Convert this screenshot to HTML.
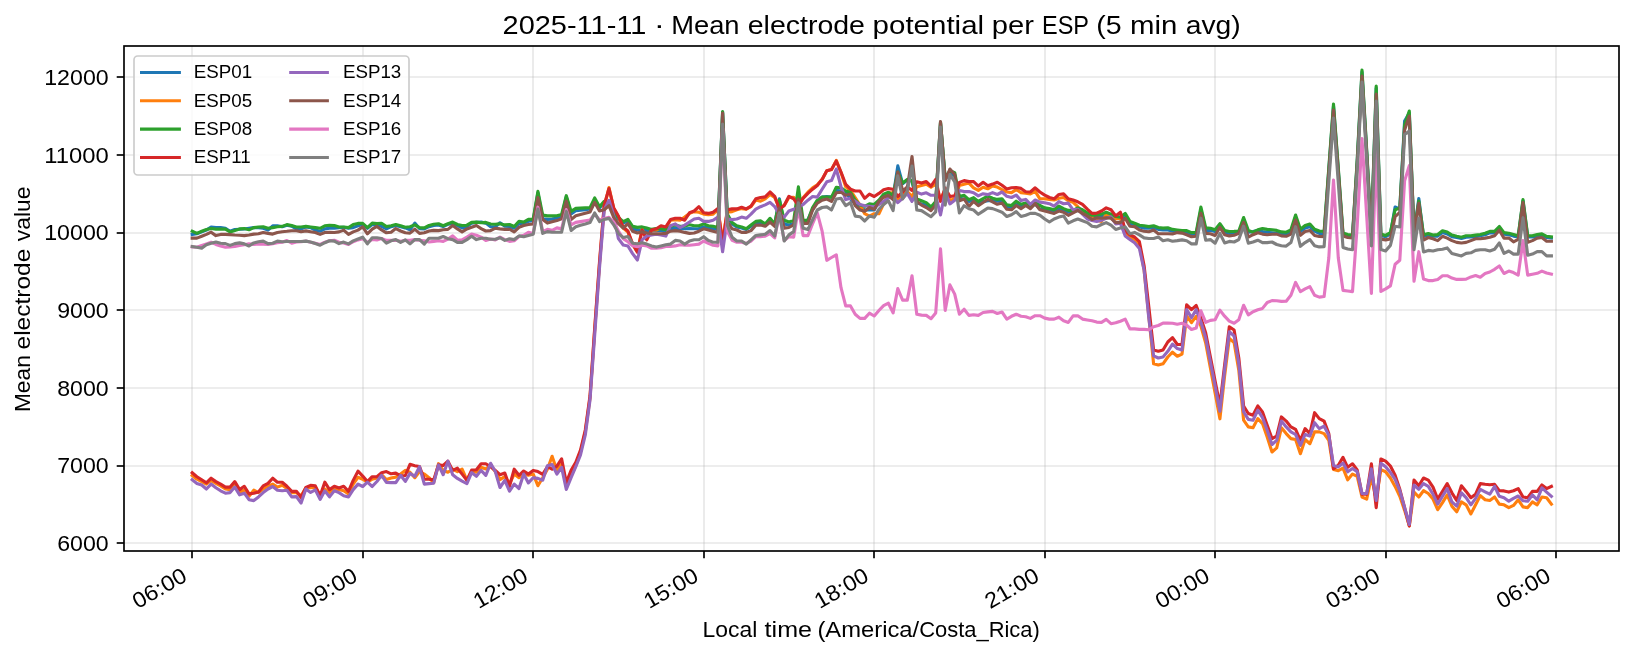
<!DOCTYPE html>
<html><head><meta charset="utf-8"><title>Mean electrode potential per ESP</title>
<style>html,body{margin:0;padding:0;background:#fff;} svg{display:block;} text{font-family:"Liberation Sans", sans-serif;fill:#000;}</style>
</head><body>
<div style="will-change:transform;width:1634px;height:657px;">
<svg width="1634" height="657" viewBox="0 0 1634 657">
<rect x="0" y="0" width="1634" height="657" fill="#fff"/>

<g stroke="#b0b0b0" stroke-opacity="0.3" stroke-width="1.67"><line x1="192" y1="46.0" x2="192" y2="551.0"/><line x1="363" y1="46.0" x2="363" y2="551.0"/><line x1="533" y1="46.0" x2="533" y2="551.0"/><line x1="704" y1="46.0" x2="704" y2="551.0"/><line x1="874" y1="46.0" x2="874" y2="551.0"/><line x1="1045" y1="46.0" x2="1045" y2="551.0"/><line x1="1215" y1="46.0" x2="1215" y2="551.0"/><line x1="1386" y1="46.0" x2="1386" y2="551.0"/><line x1="1556" y1="46.0" x2="1556" y2="551.0"/><line x1="124.0" y1="543" x2="1619.0" y2="543"/><line x1="124.0" y1="466" x2="1619.0" y2="466"/><line x1="124.0" y1="388" x2="1619.0" y2="388"/><line x1="124.0" y1="310" x2="1619.0" y2="310"/><line x1="124.0" y1="233" x2="1619.0" y2="233"/><line x1="124.0" y1="155" x2="1619.0" y2="155"/><line x1="124.0" y1="77" x2="1619.0" y2="77"/></g>
<g fill="none" stroke-width="3.125" stroke-linejoin="round" stroke-linecap="square">
<clipPath id="c"><rect x="124.0" y="46.0" width="1495.0" height="505.0"/></clipPath>
<polyline clip-path="url(#c)" stroke="#1f77b4" points="192.2,234.4 196.9,233.8 201.7,231.9 206.4,230.1 211.1,227.0 215.9,227.6 220.6,227.6 225.4,228.3 230.1,231.3 234.8,229.5 239.6,229.2 244.3,229.0 249.0,228.3 253.8,227.6 258.5,227.6 263.2,228.3 268.0,230.1 272.7,225.8 277.4,225.8 282.2,226.8 286.9,225.2 291.7,226.1 296.4,228.9 301.1,228.9 305.9,227.0 310.6,227.6 315.3,230.1 320.1,231.3 324.8,228.9 329.5,228.3 334.3,228.3 339.0,227.6 343.7,227.3 348.5,228.3 353.2,227.6 358.0,225.8 362.7,224.6 367.4,228.3 372.2,224.6 376.9,224.7 381.6,226.3 386.4,228.9 391.1,226.7 395.8,225.5 400.6,226.7 405.3,227.9 410.0,229.8 414.8,223.1 419.5,228.6 424.3,228.9 429.0,226.7 433.7,225.5 438.5,224.9 443.2,226.5 447.9,224.3 452.7,223.7 457.4,225.5 462.1,227.9 466.9,226.7 471.6,223.1 476.4,222.4 481.1,222.1 485.8,223.1 490.6,226.7 495.3,226.7 500.0,222.8 504.8,226.1 509.5,226.5 514.2,228.2 519.0,223.7 523.7,223.3 528.4,221.2 533.2,220.6 537.9,192.9 542.7,218.8 547.4,219.4 552.1,219.1 556.9,217.9 561.6,216.9 566.3,196.9 571.1,213.9 575.8,210.8 580.5,210.2 585.3,209.6 590.0,209.0 594.7,200.0 599.5,208.0 604.2,203.0 609.0,206.0 613.7,213.0 618.4,219.0 623.2,223.0 627.9,221.0 632.6,229.0 637.4,229.9 642.1,230.0 646.8,230.6 651.6,230.6 656.3,230.2 661.0,230.6 665.8,230.6 670.5,228.5 675.3,228.1 680.0,228.8 684.7,228.8 689.5,228.5 694.2,228.8 698.9,228.5 703.7,226.9 708.4,228.1 713.1,228.8 717.9,229.4 722.6,112.0 727.3,215.3 732.1,223.9 736.8,226.9 741.6,228.1 746.3,229.4 751.0,226.3 755.8,222.6 760.5,223.2 765.2,224.5 770.0,220.2 774.7,224.5 779.4,198.8 784.2,223.9 788.9,225.1 793.7,223.7 798.4,199.2 803.1,222.2 807.9,219.8 812.6,209.4 817.3,201.4 822.1,197.1 826.8,196.5 831.5,197.1 836.3,190.4 841.0,191.0 845.7,192.2 850.5,199.0 855.2,203.9 860.0,207.5 864.7,210.0 869.4,210.0 874.2,210.0 878.9,201.4 883.6,195.9 888.4,193.4 893.1,197.1 897.8,165.9 902.6,183.7 907.3,180.0 912.0,181.2 916.8,203.2 921.5,203.9 926.3,205.1 931.0,207.5 935.7,203.9 940.5,123.0 945.2,179.4 949.9,173.3 954.7,175.7 959.4,198.3 964.1,199.0 968.9,201.4 973.6,200.2 978.3,202.6 983.1,201.6 987.8,200.7 992.6,200.6 997.3,201.2 1002.0,201.2 1006.8,206.7 1011.5,207.3 1016.2,203.7 1021.0,205.5 1025.7,204.9 1030.4,207.3 1035.2,203.7 1039.9,209.2 1044.7,209.8 1049.4,211.0 1054.1,211.0 1058.9,209.2 1063.6,210.4 1068.3,212.2 1073.1,211.6 1077.8,210.4 1082.5,211.6 1087.3,214.1 1092.0,216.5 1096.7,216.5 1101.5,216.5 1106.2,215.9 1111.0,215.9 1115.7,218.3 1120.4,219.0 1125.2,217.1 1129.9,223.2 1134.6,224.5 1139.4,226.9 1144.1,228.1 1148.8,228.1 1153.6,227.5 1158.3,229.4 1163.0,230.0 1167.8,230.0 1172.5,231.1 1177.3,231.6 1182.0,232.2 1186.7,232.2 1191.5,235.0 1196.2,234.1 1200.9,209.6 1205.7,230.4 1210.4,230.2 1215.1,231.6 1219.9,226.7 1224.6,232.2 1229.3,233.4 1234.1,232.8 1238.8,232.8 1243.6,220.6 1248.3,232.2 1253.0,231.6 1257.8,230.4 1262.5,231.6 1267.2,232.2 1272.0,232.8 1276.7,233.4 1281.4,234.1 1286.2,234.1 1290.9,232.2 1295.6,218.2 1300.4,231.6 1305.1,227.9 1309.9,226.7 1314.6,231.0 1319.3,233.4 1324.1,234.3 1328.8,170.0 1333.5,106.0 1338.3,170.0 1343.0,235.0 1347.7,236.0 1352.5,237.0 1357.2,162.0 1362.0,72.0 1366.7,152.0 1371.4,234.0 1376.2,88.0 1380.9,235.5 1385.6,236.7 1390.4,234.1 1395.1,207.0 1399.8,209.2 1404.6,121.0 1409.3,113.0 1414.0,234.5 1418.8,198.5 1423.5,236.2 1428.3,235.1 1433.0,236.3 1437.7,236.1 1442.5,232.6 1447.2,233.9 1451.9,236.6 1456.7,237.5 1461.4,238.5 1466.1,237.3 1470.9,236.9 1475.6,236.6 1480.3,235.7 1485.1,234.8 1489.8,232.9 1494.6,232.9 1499.3,228.3 1504.0,234.1 1508.8,234.8 1513.5,236.1 1518.2,236.9 1523.0,200.8 1527.7,236.9 1532.4,236.9 1537.2,236.1 1541.9,235.3 1546.6,237.5 1551.4,238.1"/>
<polyline clip-path="url(#c)" stroke="#ff7f0e" points="192.2,475.5 196.9,479.2 201.7,481.6 206.4,484.1 211.1,480.4 215.9,483.4 220.6,485.9 225.4,489.0 230.1,489.6 234.8,485.3 239.6,492.0 244.3,490.2 249.0,496.3 253.8,490.2 258.5,492.6 263.2,489.0 268.0,485.9 272.7,484.1 277.4,487.1 282.2,485.3 286.9,488.4 291.7,492.6 296.4,492.6 301.1,495.7 305.9,487.7 310.6,487.7 315.3,487.1 320.1,495.7 324.8,489.0 329.5,492.6 334.3,489.0 339.0,489.6 343.7,490.8 348.5,493.9 353.2,484.1 358.0,477.3 362.7,479.2 367.4,482.2 372.2,479.2 376.9,478.1 381.6,474.7 386.4,479.6 391.1,478.0 395.8,477.1 400.6,474.1 405.3,470.4 410.0,472.2 414.8,477.7 419.5,471.6 424.3,474.1 429.0,477.7 433.7,482.6 438.5,463.7 443.2,470.4 447.9,472.2 452.7,469.2 457.4,471.6 462.1,469.2 466.9,480.2 471.6,471.6 476.4,472.2 481.1,467.3 485.8,468.9 490.6,465.5 495.3,471.6 500.0,479.6 504.8,476.5 509.5,483.9 514.2,474.1 519.0,477.7 523.7,474.1 528.4,475.3 533.2,474.1 537.9,485.7 542.7,477.7 547.4,469.2 552.1,456.3 556.9,470.4 561.6,464.3 566.3,485.1 571.1,475.3 575.8,465.5 580.5,452.0 585.3,432.0 590.0,398.0 594.7,330.0 599.5,264.0 604.2,207.0 609.0,187.5 613.7,208.5 618.4,217.0 623.2,228.0 627.9,232.0 632.6,244.4 637.4,251.8 642.1,229.4 646.8,238.5 651.6,230.0 656.3,230.0 661.0,227.5 665.8,228.1 670.5,220.2 675.3,219.6 680.0,220.2 684.7,217.1 689.5,213.4 694.2,211.6 698.9,212.2 703.7,214.1 708.4,214.7 713.1,214.1 717.9,209.8 722.6,240.0 727.3,212.2 732.1,211.6 736.8,209.8 741.6,208.6 746.3,209.2 751.0,206.7 755.8,200.0 760.5,201.2 765.2,198.8 770.0,194.5 774.7,197.5 779.4,207.9 784.2,205.5 788.9,197.5 793.7,197.3 798.4,202.8 803.1,197.7 807.9,192.2 812.6,187.9 817.3,184.9 822.1,179.4 826.8,170.8 831.5,169.6 836.3,160.4 841.0,172.6 845.7,186.7 850.5,190.4 855.2,197.7 860.0,205.1 864.7,213.7 869.4,216.1 874.2,213.7 878.9,213.7 883.6,203.9 888.4,192.8 893.1,192.8 897.8,199.0 902.6,194.1 907.3,191.6 912.0,196.5 916.8,186.7 921.5,185.5 926.3,184.3 931.0,187.3 935.7,184.3 940.5,200.0 945.2,189.2 949.9,200.2 954.7,199.0 959.4,185.5 964.1,184.3 968.9,183.1 973.6,187.9 978.3,190.4 983.1,187.2 987.8,188.8 992.6,185.9 997.3,187.1 1002.0,189.6 1006.8,192.0 1011.5,192.6 1016.2,189.6 1021.0,192.6 1025.7,193.3 1030.4,193.9 1035.2,191.4 1039.9,198.8 1044.7,198.8 1049.4,199.4 1054.1,200.0 1058.9,198.2 1063.6,197.5 1068.3,200.6 1073.1,202.4 1077.8,206.7 1082.5,212.2 1087.3,216.5 1092.0,217.1 1096.7,220.2 1101.5,221.4 1106.2,214.7 1111.0,216.5 1115.7,219.0 1120.4,218.3 1125.2,233.7 1129.9,237.0 1134.6,239.4 1139.4,245.0 1144.1,270.0 1148.8,316.0 1153.6,363.8 1158.3,365.0 1163.0,363.8 1167.8,357.0 1172.5,352.2 1177.3,356.2 1182.0,354.1 1186.7,315.8 1191.5,322.6 1196.2,316.4 1200.9,326.0 1205.7,343.0 1210.4,368.0 1215.1,393.0 1219.9,418.8 1224.6,376.0 1229.3,338.4 1234.1,342.6 1238.8,370.2 1243.6,420.2 1248.3,426.9 1253.0,427.8 1257.8,418.6 1262.5,423.6 1267.2,437.0 1272.0,452.0 1276.7,447.9 1281.4,427.8 1286.2,433.6 1290.9,438.6 1295.6,439.5 1300.4,453.7 1305.1,439.5 1309.9,443.7 1314.6,431.9 1319.3,431.9 1324.1,433.6 1328.8,440.3 1333.5,469.6 1338.3,470.7 1343.0,468.1 1347.7,479.8 1352.5,474.1 1357.2,476.2 1362.0,497.0 1366.7,499.1 1371.4,476.6 1376.2,499.1 1380.9,469.6 1385.6,471.7 1390.4,478.0 1395.1,486.4 1399.8,496.3 1404.6,510.4 1409.3,525.9 1414.0,492.1 1418.8,497.0 1423.5,490.7 1428.3,493.5 1433.0,499.1 1437.7,509.7 1442.5,502.6 1447.2,494.9 1451.9,506.2 1456.7,511.8 1461.4,501.9 1466.1,504.8 1470.9,513.9 1475.6,504.8 1480.3,495.6 1485.1,499.8 1489.8,500.5 1494.6,497.0 1499.3,504.1 1504.0,504.8 1508.8,507.6 1513.5,505.4 1518.2,499.8 1523.0,506.9 1527.7,507.6 1532.4,501.9 1537.2,504.8 1541.9,497.0 1546.6,497.7 1551.4,504.1"/>
<polyline clip-path="url(#c)" stroke="#2ca02c" points="192.2,231.3 196.9,233.4 201.7,231.3 206.4,229.5 211.1,228.5 215.9,229.1 220.6,229.1 225.4,229.1 230.1,231.9 234.8,230.5 239.6,228.9 244.3,228.6 249.0,229.8 253.8,227.6 258.5,227.0 263.2,226.8 268.0,228.3 272.7,227.6 277.4,226.8 282.2,226.4 286.9,224.6 291.7,225.6 296.4,227.0 301.1,227.0 305.9,226.4 310.6,227.0 315.3,227.6 320.1,228.3 324.8,225.8 329.5,225.2 334.3,225.6 339.0,227.0 343.7,227.0 348.5,227.6 353.2,224.6 358.0,223.4 362.7,223.4 367.4,227.6 372.2,223.1 376.9,223.6 381.6,223.2 386.4,226.5 391.1,225.7 395.8,224.5 400.6,225.7 405.3,227.3 410.0,226.7 414.8,224.9 419.5,227.7 424.3,227.9 429.0,225.5 433.7,224.3 438.5,223.7 443.2,225.7 447.9,223.7 452.7,222.1 457.4,224.5 462.1,225.5 466.9,225.2 471.6,222.4 476.4,222.1 481.1,222.8 485.8,222.4 490.6,224.0 495.3,224.3 500.0,223.7 504.8,224.9 509.5,224.5 514.2,226.5 519.0,221.2 523.7,222.1 528.4,219.4 533.2,219.1 537.9,191.4 542.7,215.1 547.4,215.9 552.1,215.9 556.9,215.7 561.6,214.5 566.3,195.7 571.1,211.4 575.8,208.4 580.5,208.1 585.3,207.9 590.0,207.7 594.7,198.0 599.5,206.7 604.2,201.3 609.0,204.0 613.7,211.0 618.4,217.3 623.2,221.6 627.9,219.4 632.6,226.4 637.4,227.4 642.1,226.9 646.8,228.1 651.6,229.4 656.3,228.5 661.0,228.8 665.8,229.7 670.5,226.3 675.3,225.1 680.0,226.3 684.7,226.1 689.5,224.8 694.2,225.7 698.9,225.7 703.7,223.9 708.4,225.7 713.1,226.3 717.9,227.5 722.6,111.5 727.3,214.1 732.1,222.6 736.8,225.7 741.6,226.9 746.3,228.8 751.0,225.1 755.8,221.4 760.5,220.8 765.2,223.9 770.0,218.3 774.7,223.9 779.4,200.0 784.2,220.2 788.9,222.0 793.7,220.6 798.4,186.9 803.1,220.4 807.9,220.4 812.6,207.5 817.3,200.2 822.1,197.1 826.8,197.1 831.5,197.1 836.3,187.3 841.0,187.9 845.7,191.0 850.5,192.2 855.2,200.2 860.0,205.1 864.7,206.3 869.4,203.9 874.2,204.5 878.9,200.2 883.6,194.1 888.4,192.2 893.1,195.3 897.8,172.0 902.6,183.1 907.3,179.4 912.0,180.6 916.8,199.0 921.5,200.8 926.3,202.6 931.0,206.9 935.7,201.4 940.5,122.0 945.2,178.2 949.9,170.8 954.7,172.6 959.4,196.5 964.1,195.3 968.9,199.6 973.6,197.7 978.3,201.4 983.1,198.6 987.8,196.1 992.6,198.2 997.3,199.4 1002.0,198.8 1006.8,204.9 1011.5,205.5 1016.2,201.2 1021.0,204.3 1025.7,203.1 1030.4,206.7 1035.2,201.8 1039.9,205.5 1044.7,207.9 1049.4,208.6 1054.1,209.8 1058.9,206.1 1063.6,208.6 1068.3,210.4 1073.1,210.4 1077.8,207.9 1082.5,209.8 1087.3,212.8 1092.0,215.3 1096.7,215.3 1101.5,214.1 1106.2,212.2 1111.0,214.1 1115.7,216.5 1120.4,217.1 1125.2,213.4 1129.9,221.4 1134.6,223.2 1139.4,225.3 1144.1,225.7 1148.8,226.6 1153.6,225.7 1158.3,227.5 1163.0,228.1 1167.8,227.8 1172.5,229.4 1177.3,230.0 1182.0,230.6 1186.7,230.6 1191.5,232.6 1196.2,232.2 1200.9,207.1 1205.7,227.9 1210.4,228.2 1215.1,229.8 1219.9,223.7 1224.6,230.4 1229.3,231.6 1234.1,231.4 1238.8,231.0 1243.6,217.5 1248.3,230.4 1253.0,232.2 1257.8,229.8 1262.5,228.6 1267.2,229.4 1272.0,229.8 1276.7,230.4 1281.4,231.9 1286.2,232.2 1290.9,229.8 1295.6,215.1 1300.4,229.2 1305.1,225.5 1309.9,224.0 1314.6,229.2 1319.3,231.0 1324.1,231.5 1328.8,168.0 1333.5,104.0 1338.3,168.0 1343.0,233.0 1347.7,234.5 1352.5,235.0 1357.2,160.0 1362.0,70.0 1366.7,150.0 1371.4,232.0 1376.2,86.0 1380.9,233.9 1385.6,235.4 1390.4,232.5 1395.1,209.7 1399.8,208.0 1404.6,125.0 1409.3,111.0 1414.0,232.9 1418.8,201.0 1423.5,234.8 1428.3,233.6 1433.0,235.1 1437.7,234.5 1442.5,230.8 1447.2,232.0 1451.9,235.1 1456.7,236.3 1461.4,237.3 1466.1,235.7 1470.9,235.7 1475.6,235.1 1480.3,234.5 1485.1,233.2 1489.8,231.4 1494.6,231.4 1499.3,226.5 1504.0,232.6 1508.8,233.2 1513.5,234.5 1518.2,235.7 1523.0,199.6 1527.7,235.7 1532.4,235.7 1537.2,234.5 1541.9,233.9 1546.6,236.3 1551.4,236.9"/>
<polyline clip-path="url(#c)" stroke="#d62728" points="192.2,472.8 196.9,476.7 201.7,479.8 206.4,482.8 211.1,478.2 215.9,481.6 220.6,484.1 225.4,487.1 230.1,487.1 234.8,481.6 239.6,489.6 244.3,486.3 249.0,493.9 253.8,493.2 258.5,492.0 263.2,485.9 268.0,483.4 272.7,478.2 277.4,482.2 282.2,482.2 286.9,486.3 291.7,491.4 296.4,491.2 301.1,497.5 305.9,487.5 310.6,485.3 315.3,485.9 320.1,495.7 324.8,482.2 329.5,489.6 334.3,486.3 339.0,488.0 343.7,486.3 348.5,491.4 353.2,480.4 358.0,471.2 362.7,476.1 367.4,481.6 372.2,476.7 376.9,476.6 381.6,472.8 386.4,471.6 391.1,473.8 395.8,473.1 400.6,475.9 405.3,475.5 410.0,464.3 414.8,465.7 419.5,466.5 424.3,479.2 429.0,479.2 433.7,479.9 438.5,464.9 443.2,465.5 447.9,461.2 452.7,470.4 457.4,468.2 462.1,474.1 466.9,480.4 471.6,470.1 476.4,469.8 481.1,463.7 485.8,463.7 490.6,466.7 495.3,470.4 500.0,474.7 504.8,473.1 509.5,486.3 514.2,469.2 519.0,475.3 523.7,471.0 528.4,474.1 533.2,470.4 537.9,471.6 542.7,474.3 547.4,466.7 552.1,469.2 556.9,466.1 561.6,458.8 566.3,482.6 571.1,470.4 575.8,462.4 580.5,450.0 585.3,430.0 590.0,396.0 594.7,328.0 599.5,262.0 604.2,205.0 609.0,188.5 613.7,207.7 618.4,216.0 623.2,227.0 627.9,231.0 632.6,243.9 637.4,252.1 642.1,230.0 646.8,239.8 651.6,230.0 656.3,228.8 661.0,225.7 665.8,226.9 670.5,219.6 675.3,218.3 680.0,218.3 684.7,220.2 689.5,212.8 694.2,211.0 698.9,206.7 703.7,212.8 708.4,213.4 713.1,212.2 717.9,208.6 722.6,244.0 727.3,209.8 732.1,208.9 736.8,208.9 741.6,207.3 746.3,208.9 751.0,206.1 755.8,198.8 760.5,197.5 765.2,196.9 770.0,192.0 774.7,196.3 779.4,209.2 784.2,205.5 788.9,196.3 793.7,198.9 798.4,205.6 803.1,198.3 807.9,193.4 812.6,189.2 817.3,185.5 822.1,179.4 826.8,170.8 831.5,169.6 836.3,161.0 841.0,172.0 845.7,184.3 850.5,189.2 855.2,191.0 860.0,191.0 864.7,198.3 869.4,194.1 874.2,196.5 878.9,193.4 883.6,189.8 888.4,188.6 893.1,189.2 897.8,196.5 902.6,192.2 907.3,186.7 912.0,190.4 916.8,181.8 921.5,183.1 926.3,181.6 931.0,186.1 935.7,179.4 940.5,201.3 945.2,187.9 949.9,196.5 954.7,195.9 959.4,182.4 964.1,180.6 968.9,181.6 973.6,181.6 978.3,186.1 983.1,182.3 987.8,185.7 992.6,184.1 997.3,182.2 1002.0,185.3 1006.8,189.0 1011.5,187.8 1016.2,187.5 1021.0,188.4 1025.7,191.8 1030.4,192.0 1035.2,187.8 1039.9,192.0 1044.7,195.1 1049.4,197.5 1054.1,198.8 1058.9,194.5 1063.6,193.9 1068.3,198.8 1073.1,200.0 1077.8,201.8 1082.5,204.3 1087.3,209.2 1092.0,213.4 1096.7,213.1 1101.5,211.0 1106.2,207.9 1111.0,209.8 1115.7,215.9 1120.4,212.2 1125.2,230.3 1129.9,234.8 1134.6,237.0 1139.4,241.7 1144.1,265.7 1148.8,306.8 1153.6,350.0 1158.3,351.3 1163.0,350.0 1167.8,342.0 1172.5,337.6 1177.3,344.5 1182.0,344.5 1186.7,304.8 1191.5,309.6 1196.2,305.5 1200.9,318.0 1205.7,333.0 1210.4,357.0 1215.1,381.0 1219.9,405.4 1224.6,365.2 1229.3,326.7 1234.1,330.0 1238.8,358.0 1243.6,406.0 1248.3,413.5 1253.0,415.2 1257.8,406.0 1262.5,411.9 1267.2,425.2 1272.0,438.6 1276.7,436.1 1281.4,416.9 1286.2,421.1 1290.9,426.9 1295.6,429.4 1300.4,440.3 1305.1,428.6 1309.9,433.6 1314.6,412.7 1319.3,418.6 1324.1,421.1 1328.8,433.6 1333.5,468.8 1338.3,465.4 1343.0,457.3 1347.7,467.3 1352.5,463.8 1357.2,470.0 1362.0,494.2 1366.7,494.2 1371.4,463.9 1376.2,507.6 1380.9,459.0 1385.6,461.1 1390.4,466.0 1395.1,475.2 1399.8,489.3 1404.6,507.6 1409.3,525.9 1414.0,480.1 1418.8,485.8 1423.5,478.0 1428.3,480.1 1433.0,487.1 1437.7,499.1 1442.5,491.4 1447.2,483.6 1451.9,492.8 1456.7,500.5 1461.4,485.8 1466.1,491.4 1470.9,497.7 1475.6,494.2 1480.3,483.6 1485.1,484.3 1489.8,484.8 1494.6,484.3 1499.3,490.7 1504.0,490.9 1508.8,492.1 1513.5,490.7 1518.2,488.6 1523.0,497.0 1527.7,497.7 1532.4,491.4 1537.2,491.4 1541.9,485.0 1546.6,488.6 1551.4,486.4"/>
<polyline clip-path="url(#c)" stroke="#9467bd" points="192.2,479.8 196.9,483.4 201.7,485.0 206.4,489.0 211.1,484.1 215.9,487.7 220.6,490.8 225.4,493.2 230.1,492.6 234.8,487.1 239.6,494.8 244.3,493.2 249.0,499.7 253.8,500.6 258.5,496.9 263.2,492.6 268.0,489.0 272.7,486.5 277.4,490.2 282.2,490.8 286.9,490.2 291.7,496.9 296.4,496.6 301.1,503.0 305.9,489.0 310.6,492.4 315.3,489.9 320.1,499.4 324.8,490.8 329.5,496.9 334.3,490.8 339.0,492.6 343.7,495.7 348.5,496.9 353.2,489.6 358.0,484.1 362.7,486.5 367.4,482.2 372.2,486.5 376.9,481.5 381.6,475.3 386.4,482.4 391.1,482.6 395.8,482.6 400.6,475.3 405.3,481.4 410.0,473.4 414.8,476.3 419.5,466.7 424.3,484.1 429.0,483.6 433.7,483.2 438.5,464.9 443.2,474.7 447.9,461.2 452.7,474.7 457.4,478.4 462.1,481.2 466.9,483.6 471.6,472.6 476.4,476.3 481.1,470.4 485.8,475.3 490.6,463.3 495.3,471.6 500.0,487.5 504.8,480.4 509.5,491.2 514.2,484.1 519.0,488.5 523.7,474.1 528.4,482.9 533.2,477.7 537.9,478.4 542.7,480.2 547.4,465.7 552.1,464.5 556.9,474.1 561.6,467.3 566.3,489.4 571.1,477.7 575.8,466.7 580.5,455.0 585.3,435.0 590.0,400.0 594.7,335.0 599.5,268.0 604.2,210.0 609.0,200.3 613.7,215.2 618.4,238.6 623.2,245.0 627.9,246.0 632.6,253.6 637.4,260.0 642.1,239.8 646.8,236.1 651.6,234.9 656.3,234.3 661.0,234.9 665.8,236.1 670.5,225.7 675.3,223.9 680.0,227.5 684.7,225.1 689.5,222.0 694.2,219.0 698.9,218.3 703.7,221.4 708.4,221.4 713.1,220.2 717.9,217.1 722.6,251.8 727.3,219.0 732.1,219.6 736.8,219.0 741.6,217.1 746.3,218.3 751.0,214.1 755.8,209.2 760.5,206.7 765.2,204.9 770.0,202.4 774.7,206.7 779.4,214.1 784.2,217.1 788.9,211.0 793.7,209.3 798.4,207.7 803.1,204.5 807.9,200.2 812.6,196.5 817.3,197.1 822.1,189.2 826.8,181.8 831.5,180.6 836.3,169.0 841.0,186.7 845.7,199.6 850.5,198.3 855.2,201.4 860.0,204.5 864.7,205.7 869.4,206.3 874.2,206.9 878.9,204.5 883.6,201.4 888.4,197.7 893.1,197.7 897.8,202.6 902.6,198.3 907.3,193.4 912.0,201.4 916.8,192.2 921.5,194.1 926.3,192.8 931.0,195.3 935.7,195.3 940.5,215.0 945.2,191.6 949.9,203.9 954.7,200.2 959.4,190.4 964.1,191.6 968.9,191.6 973.6,192.8 978.3,195.9 983.1,193.7 987.8,194.6 992.6,192.6 997.3,194.5 1002.0,192.0 1006.8,196.3 1011.5,197.5 1016.2,195.1 1021.0,200.6 1025.7,199.4 1030.4,204.3 1035.2,200.0 1039.9,202.1 1044.7,202.8 1049.4,203.7 1054.1,206.1 1058.9,201.6 1063.6,203.7 1068.3,203.1 1073.1,209.8 1077.8,209.2 1082.5,214.1 1087.3,219.0 1092.0,220.4 1096.7,221.4 1101.5,220.2 1106.2,218.3 1111.0,216.8 1115.7,223.9 1120.4,223.2 1125.2,236.0 1129.9,239.4 1134.6,242.8 1139.4,248.5 1144.1,270.2 1148.8,318.0 1153.6,355.8 1158.3,358.0 1163.0,357.0 1167.8,351.3 1172.5,344.1 1177.3,348.6 1182.0,350.0 1186.7,309.6 1191.5,317.8 1196.2,309.6 1200.9,322.0 1205.7,338.0 1210.4,362.0 1215.1,386.0 1219.9,411.2 1224.6,370.0 1229.3,331.7 1234.1,336.0 1238.8,363.5 1243.6,411.8 1248.3,419.4 1253.0,420.2 1257.8,410.2 1262.5,417.7 1267.2,430.3 1272.0,444.5 1276.7,440.3 1281.4,421.1 1286.2,426.9 1290.9,431.9 1295.6,434.5 1300.4,445.3 1305.1,434.5 1309.9,436.1 1314.6,422.7 1319.3,428.6 1324.1,426.1 1328.8,435.3 1333.5,465.4 1338.3,466.9 1343.0,463.1 1347.7,471.8 1352.5,468.5 1357.2,471.6 1362.0,493.5 1366.7,493.5 1371.4,468.9 1376.2,500.5 1380.9,463.2 1385.6,466.7 1390.4,472.4 1395.1,479.4 1399.8,490.7 1404.6,507.6 1409.3,524.5 1414.0,485.0 1418.8,489.3 1423.5,483.6 1428.3,486.4 1433.0,494.2 1437.7,504.1 1442.5,496.3 1447.2,488.6 1451.9,501.9 1456.7,506.2 1461.4,492.8 1466.1,497.7 1470.9,504.8 1475.6,498.4 1480.3,489.3 1485.1,491.8 1489.8,494.2 1494.6,486.4 1499.3,496.3 1504.0,497.7 1508.8,501.2 1513.5,498.4 1518.2,496.0 1523.0,500.8 1527.7,501.2 1532.4,494.9 1537.2,499.8 1541.9,487.9 1546.6,492.1 1551.4,496.3"/>
<polyline clip-path="url(#c)" stroke="#8c564b" points="192.2,238.1 196.9,238.1 201.7,236.2 206.4,234.4 211.1,232.2 215.9,235.6 220.6,234.4 225.4,234.4 230.1,234.6 234.8,235.0 239.6,235.3 244.3,235.6 249.0,235.0 253.8,234.1 258.5,233.8 263.2,232.5 268.0,233.4 272.7,234.1 277.4,232.5 282.2,231.7 286.9,231.3 291.7,230.7 296.4,230.7 301.1,231.7 305.9,230.9 310.6,231.7 315.3,232.5 320.1,234.4 324.8,232.5 329.5,232.2 334.3,232.5 339.0,231.9 343.7,230.1 348.5,234.4 353.2,231.9 358.0,230.1 362.7,226.8 367.4,233.8 372.2,229.2 376.9,226.4 381.6,229.9 386.4,232.8 391.1,232.2 395.8,228.6 400.6,231.0 405.3,232.8 410.0,233.1 414.8,229.2 419.5,233.4 424.3,232.8 429.0,231.0 433.7,230.4 438.5,230.6 443.2,229.8 447.9,229.4 452.7,225.5 457.4,228.9 462.1,231.9 466.9,228.9 471.6,227.3 476.4,225.5 481.1,228.6 485.8,231.0 490.6,230.6 495.3,228.2 500.0,228.9 504.8,229.4 509.5,229.2 514.2,231.9 519.0,227.3 523.7,225.5 528.4,224.5 533.2,224.0 537.9,197.5 542.7,219.4 547.4,223.1 552.1,221.8 556.9,220.6 561.6,218.8 566.3,201.1 571.1,219.4 575.8,215.7 580.5,214.5 585.3,213.2 590.0,212.0 594.7,202.4 599.5,211.0 604.2,209.8 609.0,205.6 613.7,217.3 618.4,223.7 623.2,228.0 627.9,223.7 632.6,231.2 637.4,233.0 642.1,231.8 646.8,233.0 651.6,233.7 656.3,233.7 661.0,233.7 665.8,233.4 670.5,231.2 675.3,230.6 680.0,231.2 684.7,232.4 689.5,233.4 694.2,233.0 698.9,231.2 703.7,228.8 708.4,230.0 713.1,231.2 717.9,232.4 722.6,113.0 727.3,221.4 732.1,228.8 736.8,230.0 741.6,232.4 746.3,232.4 751.0,230.6 755.8,225.1 760.5,225.1 765.2,226.3 770.0,222.0 774.7,226.3 779.4,207.9 784.2,228.1 788.9,227.5 793.7,224.9 798.4,199.2 803.1,223.4 807.9,223.4 812.6,210.0 817.3,203.2 822.1,200.2 826.8,199.0 831.5,201.4 836.3,192.8 841.0,192.2 845.7,195.3 850.5,194.1 855.2,205.7 860.0,210.0 864.7,211.2 869.4,207.5 874.2,209.4 878.9,201.4 883.6,197.1 888.4,195.3 893.1,199.6 897.8,172.0 902.6,190.4 907.3,187.9 912.0,156.5 916.8,201.4 921.5,205.1 926.3,207.5 931.0,210.6 935.7,205.1 940.5,121.5 945.2,180.6 949.9,169.0 954.7,174.5 959.4,200.8 964.1,199.0 968.9,206.3 973.6,201.4 978.3,205.7 983.1,202.5 987.8,199.2 992.6,201.8 997.3,204.3 1002.0,203.1 1006.8,209.2 1011.5,209.8 1016.2,205.5 1021.0,208.6 1025.7,205.5 1030.4,208.6 1035.2,203.7 1039.9,209.8 1044.7,211.0 1049.4,212.2 1054.1,213.4 1058.9,211.0 1063.6,212.2 1068.3,215.3 1073.1,212.8 1077.8,210.4 1082.5,213.4 1087.3,215.9 1092.0,219.6 1096.7,217.7 1101.5,218.3 1106.2,217.7 1111.0,218.3 1115.7,222.6 1120.4,222.6 1125.2,218.3 1129.9,226.3 1134.6,226.6 1139.4,230.0 1144.1,231.2 1148.8,231.8 1153.6,230.0 1158.3,233.7 1163.0,233.7 1167.8,233.7 1172.5,233.9 1177.3,232.6 1182.0,233.1 1186.7,234.7 1191.5,236.8 1196.2,236.3 1200.9,213.3 1205.7,233.4 1210.4,233.8 1215.1,235.5 1219.9,227.3 1224.6,234.7 1229.3,235.9 1234.1,235.3 1238.8,233.4 1243.6,222.4 1248.3,237.1 1253.0,234.7 1257.8,232.8 1262.5,234.1 1267.2,234.7 1272.0,234.3 1276.7,234.1 1281.4,235.9 1286.2,236.3 1290.9,234.1 1295.6,220.0 1300.4,235.3 1305.1,231.6 1309.9,230.4 1314.6,235.5 1319.3,236.5 1324.1,236.6 1328.8,173.0 1333.5,110.0 1338.3,173.0 1343.0,236.0 1347.7,237.5 1352.5,238.0 1357.2,165.0 1362.0,76.0 1366.7,155.0 1371.4,238.0 1376.2,94.0 1380.9,239.1 1385.6,239.9 1390.4,238.9 1395.1,216.7 1399.8,212.4 1404.6,130.0 1409.3,116.0 1414.0,234.3 1418.8,203.3 1423.5,240.0 1428.3,237.5 1433.0,238.8 1437.7,240.6 1442.5,236.3 1447.2,238.1 1451.9,240.6 1456.7,242.4 1461.4,243.0 1466.1,242.4 1470.9,240.6 1475.6,238.8 1480.3,238.8 1485.1,238.1 1489.8,237.3 1494.6,235.7 1499.3,230.2 1504.0,238.1 1508.8,238.1 1513.5,241.8 1518.2,239.4 1523.0,202.6 1527.7,242.4 1532.4,240.6 1537.2,238.1 1541.9,237.5 1546.6,241.2 1551.4,241.2"/>
<polyline clip-path="url(#c)" stroke="#e377c2" points="192.2,246.9 196.9,247.2 201.7,245.4 206.4,243.9 211.1,242.3 215.9,244.4 220.6,246.0 225.4,247.2 230.1,246.9 234.8,246.4 239.6,245.4 244.3,244.8 249.0,243.9 253.8,244.4 258.5,243.9 263.2,244.2 268.0,244.4 272.7,243.6 277.4,242.7 282.2,242.3 286.9,240.5 291.7,243.2 296.4,242.0 301.1,241.7 305.9,241.1 310.6,242.3 315.3,243.2 320.1,244.4 324.8,242.3 329.5,240.7 334.3,240.2 339.0,242.3 343.7,242.9 348.5,244.4 353.2,241.7 358.0,239.9 362.7,238.7 367.4,242.3 372.2,239.5 376.9,239.9 381.6,238.5 386.4,240.4 391.1,240.4 395.8,240.2 400.6,241.2 405.3,240.4 410.0,240.2 414.8,239.6 419.5,240.2 424.3,240.8 429.0,242.0 433.7,241.4 438.5,240.8 443.2,241.4 447.9,239.0 452.7,235.9 457.4,240.2 462.1,239.9 466.9,237.1 471.6,234.1 476.4,235.3 481.1,237.1 485.8,240.4 490.6,239.0 495.3,239.9 500.0,237.1 504.8,239.6 509.5,241.4 514.2,240.8 519.0,236.5 523.7,235.3 528.4,232.2 533.2,233.4 537.9,207.2 542.7,231.6 547.4,229.4 552.1,230.4 556.9,227.9 561.6,228.9 566.3,209.7 571.1,224.9 575.8,222.4 580.5,221.6 585.3,220.8 590.0,220.0 594.7,214.0 599.5,220.0 604.2,218.4 609.0,217.3 613.7,222.0 618.4,231.0 623.2,238.6 627.9,241.8 632.6,245.7 637.4,246.8 642.1,245.3 646.8,245.9 651.6,248.3 656.3,248.3 661.0,247.7 665.8,246.5 670.5,246.5 675.3,245.9 680.0,244.7 684.7,245.3 689.5,245.3 694.2,244.7 698.9,244.1 703.7,241.0 708.4,243.4 713.1,245.3 717.9,245.9 722.6,128.0 727.3,231.2 732.1,240.4 736.8,242.2 741.6,242.2 746.3,243.4 751.0,241.0 755.8,236.7 760.5,236.7 765.2,236.1 770.0,233.7 774.7,237.9 779.4,214.1 784.2,240.4 788.9,236.7 793.7,237.1 798.4,208.3 803.1,235.6 807.9,235.6 812.6,223.7 817.3,212.8 822.1,231.1 826.8,260.3 831.5,257.5 836.3,254.8 841.0,287.7 845.7,305.9 850.5,305.9 855.2,314.2 860.0,318.4 864.7,318.4 869.4,313.2 874.2,316.0 878.9,310.5 883.6,305.6 888.4,303.2 893.1,312.9 897.8,288.6 902.6,300.1 907.3,300.1 912.0,275.8 916.8,314.2 921.5,315.1 926.3,315.4 931.0,318.7 935.7,312.9 940.5,248.9 945.2,310.5 949.9,284.9 954.7,294.1 959.4,314.2 964.1,309.2 968.9,315.4 973.6,314.7 978.3,315.4 983.1,312.5 987.8,311.9 992.6,311.4 997.3,313.5 1002.0,312.0 1006.8,319.1 1011.5,316.3 1016.2,314.2 1021.0,316.3 1025.7,316.7 1030.4,318.4 1035.2,315.7 1039.9,315.7 1044.7,318.1 1049.4,319.1 1054.1,319.1 1058.9,317.2 1063.6,320.8 1068.3,322.4 1073.1,315.9 1077.8,315.7 1082.5,319.1 1087.3,320.0 1092.0,320.8 1096.7,322.1 1101.5,322.4 1106.2,319.4 1111.0,323.7 1115.7,322.8 1120.4,321.2 1125.2,319.1 1129.9,328.9 1134.6,328.9 1139.4,329.4 1144.1,329.4 1148.8,329.8 1153.6,326.7 1158.3,325.5 1163.0,323.1 1167.8,323.1 1172.5,323.2 1177.3,324.3 1182.0,323.3 1186.7,325.3 1191.5,329.5 1196.2,328.0 1200.9,310.8 1205.7,322.4 1210.4,320.4 1215.1,319.8 1219.9,310.1 1224.6,316.2 1229.3,321.1 1234.1,323.2 1238.8,319.8 1243.6,305.3 1248.3,314.9 1253.0,311.7 1257.8,309.8 1262.5,308.4 1267.2,302.5 1272.0,300.6 1276.7,300.8 1281.4,301.4 1286.2,301.2 1290.9,295.3 1295.6,282.4 1300.4,291.6 1305.1,288.9 1309.9,286.7 1314.6,295.3 1319.3,297.1 1324.1,296.5 1328.8,258.0 1333.5,180.0 1338.3,258.0 1343.0,290.4 1347.7,291.0 1352.5,291.6 1357.2,226.0 1362.0,138.5 1366.7,216.0 1371.4,293.5 1376.2,150.0 1380.9,291.4 1385.6,288.9 1390.4,285.9 1395.1,264.3 1399.8,260.2 1404.6,180.9 1409.3,165.7 1414.0,281.3 1418.8,251.7 1423.5,279.1 1428.3,280.6 1433.0,280.6 1437.7,279.4 1442.5,275.7 1447.2,275.7 1451.9,278.1 1456.7,279.4 1461.4,279.4 1466.1,279.1 1470.9,276.9 1475.6,275.5 1480.3,277.2 1485.1,273.5 1489.8,272.0 1494.6,269.3 1499.3,265.9 1504.0,273.5 1508.8,271.1 1513.5,272.6 1518.2,275.1 1523.0,240.6 1527.7,275.1 1532.4,274.2 1537.2,273.3 1541.9,271.1 1546.6,273.0 1551.4,274.2"/>
<polyline clip-path="url(#c)" stroke="#7f7f7f" points="192.2,246.6 196.9,247.2 201.7,248.1 206.4,244.8 211.1,243.2 215.9,242.0 220.6,243.2 225.4,243.6 230.1,245.4 234.8,243.6 239.6,242.9 244.3,243.9 249.0,246.0 253.8,242.9 258.5,241.7 263.2,241.1 268.0,243.6 272.7,243.2 277.4,241.1 282.2,241.7 286.9,241.5 291.7,241.5 296.4,241.5 301.1,241.5 305.9,241.1 310.6,242.0 315.3,243.6 320.1,245.2 324.8,242.7 329.5,240.7 334.3,241.1 339.0,243.6 343.7,242.1 348.5,243.9 353.2,240.9 358.0,239.0 362.7,237.1 367.4,243.9 372.2,237.8 376.9,237.8 381.6,238.5 386.4,243.2 391.1,240.8 395.8,239.6 400.6,242.4 405.3,239.9 410.0,243.9 414.8,239.6 419.5,239.6 424.3,244.1 429.0,238.3 433.7,238.3 438.5,238.3 443.2,236.5 447.9,238.7 452.7,239.6 457.4,242.4 462.1,242.4 466.9,239.6 471.6,236.3 476.4,239.6 481.1,238.3 485.8,238.3 490.6,239.2 495.3,239.2 500.0,237.7 504.8,240.4 509.5,238.7 514.2,239.6 519.0,235.9 523.7,236.8 528.4,235.5 533.2,234.3 537.9,209.1 542.7,233.4 547.4,231.6 552.1,232.2 556.9,232.2 561.6,232.2 566.3,211.5 571.1,230.4 575.8,226.7 580.5,225.3 585.3,224.0 590.0,222.6 594.7,213.0 599.5,221.6 604.2,219.4 609.0,218.4 613.7,224.8 618.4,233.3 623.2,237.6 627.9,236.5 632.6,243.2 637.4,243.8 642.1,242.8 646.8,244.1 651.6,245.9 656.3,247.1 661.0,245.9 665.8,244.7 670.5,244.1 675.3,240.4 680.0,241.0 684.7,244.1 689.5,241.0 694.2,239.8 698.9,239.8 703.7,236.7 708.4,240.4 713.1,242.2 717.9,242.2 722.6,124.0 727.3,225.1 732.1,237.3 736.8,241.0 741.6,241.0 746.3,244.1 751.0,239.8 755.8,235.5 760.5,234.9 765.2,234.3 770.0,230.6 774.7,236.1 779.4,212.8 784.2,241.0 788.9,234.9 793.7,231.6 798.4,202.8 803.1,228.3 807.9,229.6 812.6,219.8 817.3,210.0 822.1,207.5 826.8,206.9 831.5,210.0 836.3,199.0 841.0,198.3 845.7,205.7 850.5,202.6 855.2,216.1 860.0,216.7 864.7,221.0 869.4,216.1 874.2,217.3 878.9,209.4 883.6,204.5 888.4,200.8 893.1,210.6 897.8,175.7 902.6,199.0 907.3,191.0 912.0,166.0 916.8,210.0 921.5,210.6 926.3,213.7 931.0,216.7 935.7,211.8 940.5,127.0 945.2,205.1 949.9,174.5 954.7,181.8 959.4,213.0 964.1,205.7 968.9,208.8 973.6,210.0 978.3,214.3 983.1,211.1 987.8,208.0 992.6,208.6 997.3,210.4 1002.0,212.2 1006.8,216.5 1011.5,214.7 1016.2,211.6 1021.0,216.5 1025.7,215.3 1030.4,213.4 1035.2,213.4 1039.9,215.3 1044.7,219.0 1049.4,222.0 1054.1,219.0 1058.9,217.1 1063.6,215.9 1068.3,223.2 1073.1,220.8 1077.8,219.0 1082.5,220.8 1087.3,222.6 1092.0,226.3 1096.7,226.9 1101.5,224.5 1106.2,222.6 1111.0,225.1 1115.7,229.4 1120.4,228.1 1125.2,226.9 1129.9,233.7 1134.6,232.4 1139.4,234.9 1144.1,237.9 1148.8,238.5 1153.6,238.5 1158.3,237.1 1163.0,240.8 1167.8,239.8 1172.5,241.2 1177.3,240.6 1182.0,239.9 1186.7,240.8 1191.5,243.9 1196.2,243.9 1200.9,218.2 1205.7,240.2 1210.4,239.6 1215.1,243.2 1219.9,233.4 1224.6,242.9 1229.3,241.4 1234.1,242.0 1238.8,239.6 1243.6,226.1 1248.3,243.2 1253.0,242.0 1257.8,240.2 1262.5,242.6 1267.2,242.6 1272.0,242.0 1276.7,244.5 1281.4,245.7 1286.2,246.1 1290.9,242.6 1295.6,226.7 1300.4,246.3 1305.1,242.6 1309.9,239.6 1314.6,245.7 1319.3,246.9 1324.1,246.6 1328.8,182.0 1333.5,118.0 1338.3,183.0 1343.0,247.4 1347.7,249.0 1352.5,249.7 1357.2,170.0 1362.0,82.0 1366.7,160.0 1371.4,246.0 1376.2,101.0 1380.9,249.6 1385.6,250.9 1390.4,245.4 1395.1,226.3 1399.8,227.0 1404.6,134.6 1409.3,131.0 1414.0,249.7 1418.8,218.0 1423.5,251.9 1428.3,250.4 1433.0,251.0 1437.7,249.8 1442.5,249.2 1447.2,247.9 1451.9,253.4 1456.7,254.7 1461.4,255.9 1466.1,253.4 1470.9,252.8 1475.6,250.4 1480.3,249.8 1485.1,249.8 1489.8,251.0 1494.6,249.2 1499.3,243.0 1504.0,253.4 1508.8,251.0 1513.5,254.1 1518.2,254.1 1523.0,217.9 1527.7,255.3 1532.4,254.1 1537.2,251.6 1541.9,251.6 1546.6,255.9 1551.4,255.9"/>
</g>
<rect x="124.0" y="46.0" width="1495.00" height="505.00" fill="none" stroke="#000" stroke-width="1.67" stroke-linejoin="miter"/>
<g stroke="#000" stroke-width="1.67"><line x1="116.71" y1="543" x2="124.0" y2="543"/><line x1="116.71" y1="466" x2="124.0" y2="466"/><line x1="116.71" y1="388" x2="124.0" y2="388"/><line x1="116.71" y1="310" x2="124.0" y2="310"/><line x1="116.71" y1="233" x2="124.0" y2="233"/><line x1="116.71" y1="155" x2="124.0" y2="155"/><line x1="116.71" y1="77" x2="124.0" y2="77"/><line x1="192" y1="551.0" x2="192" y2="558.29"/><line x1="363" y1="551.0" x2="363" y2="558.29"/><line x1="533" y1="551.0" x2="533" y2="558.29"/><line x1="704" y1="551.0" x2="704" y2="558.29"/><line x1="874" y1="551.0" x2="874" y2="558.29"/><line x1="1045" y1="551.0" x2="1045" y2="558.29"/><line x1="1215" y1="551.0" x2="1215" y2="558.29"/><line x1="1386" y1="551.0" x2="1386" y2="558.29"/><line x1="1556" y1="551.0" x2="1556" y2="558.29"/></g>
<text x="108.70" y="550.95" font-size="22" text-anchor="end" textLength="51.5" lengthAdjust="spacingAndGlyphs">6000</text>
<text x="108.70" y="473.28" font-size="22" text-anchor="end" textLength="51.5" lengthAdjust="spacingAndGlyphs">7000</text>
<text x="108.70" y="395.61" font-size="22" text-anchor="end" textLength="51.5" lengthAdjust="spacingAndGlyphs">8000</text>
<text x="108.70" y="317.94" font-size="22" text-anchor="end" textLength="51.5" lengthAdjust="spacingAndGlyphs">9000</text>
<text x="108.70" y="240.27" font-size="22" text-anchor="end" textLength="64.5" lengthAdjust="spacingAndGlyphs">10000</text>
<text x="108.70" y="162.60" font-size="22" text-anchor="end" textLength="64.5" lengthAdjust="spacingAndGlyphs">11000</text>
<text x="108.70" y="84.93" font-size="22" text-anchor="end" textLength="64.5" lengthAdjust="spacingAndGlyphs">12000</text>
<text transform="translate(188.40,580.00) rotate(-30)" font-size="22" text-anchor="end" textLength="58.4" lengthAdjust="spacingAndGlyphs">06:00</text>
<text transform="translate(358.89,580.00) rotate(-30)" font-size="22" text-anchor="end" textLength="58.4" lengthAdjust="spacingAndGlyphs">09:00</text>
<text transform="translate(529.38,580.00) rotate(-30)" font-size="22" text-anchor="end" textLength="58.4" lengthAdjust="spacingAndGlyphs">12:00</text>
<text transform="translate(699.87,580.00) rotate(-30)" font-size="22" text-anchor="end" textLength="58.4" lengthAdjust="spacingAndGlyphs">15:00</text>
<text transform="translate(870.36,580.00) rotate(-30)" font-size="22" text-anchor="end" textLength="58.4" lengthAdjust="spacingAndGlyphs">18:00</text>
<text transform="translate(1040.85,580.00) rotate(-30)" font-size="22" text-anchor="end" textLength="58.4" lengthAdjust="spacingAndGlyphs">21:00</text>
<text transform="translate(1211.34,580.00) rotate(-30)" font-size="22" text-anchor="end" textLength="58.4" lengthAdjust="spacingAndGlyphs">00:00</text>
<text transform="translate(1381.83,580.00) rotate(-30)" font-size="22" text-anchor="end" textLength="58.4" lengthAdjust="spacingAndGlyphs">03:00</text>
<text transform="translate(1552.32,580.00) rotate(-30)" font-size="22" text-anchor="end" textLength="58.4" lengthAdjust="spacingAndGlyphs">06:00</text>
<text x="502.54" y="33.90" font-size="25" textLength="143.82" lengthAdjust="spacingAndGlyphs">2025-11-11</text><text x="653.85" y="33.90" font-size="25" textLength="11.24" lengthAdjust="spacingAndGlyphs">·</text><text x="671.21" y="33.90" font-size="25" textLength="68.38" lengthAdjust="spacingAndGlyphs">Mean</text><text x="747.76" y="33.90" font-size="25" textLength="117.22" lengthAdjust="spacingAndGlyphs">electrode</text><text x="872.64" y="33.90" font-size="25" textLength="111.46" lengthAdjust="spacingAndGlyphs">potential</text><text x="991.77" y="33.90" font-size="25" textLength="42.09" lengthAdjust="spacingAndGlyphs">per</text><text x="1042.02" y="33.90" font-size="25" textLength="46.94" lengthAdjust="spacingAndGlyphs">ESP</text><text x="1096.22" y="33.90" font-size="25" textLength="25.39" lengthAdjust="spacingAndGlyphs">(5</text><text x="1130.05" y="33.90" font-size="25" textLength="47.38" lengthAdjust="spacingAndGlyphs">min</text><text x="1185.77" y="33.90" font-size="25" textLength="54.99" lengthAdjust="spacingAndGlyphs">avg)</text>
<text x="702.62" y="636.90" font-size="22" textLength="54.74" lengthAdjust="spacingAndGlyphs">Local</text><text x="764.60" y="636.90" font-size="22" textLength="47.38" lengthAdjust="spacingAndGlyphs">time</text><text x="817.42" y="636.90" font-size="22" textLength="101.72" lengthAdjust="spacingAndGlyphs">(America/</text><text x="919.20" y="636.90" font-size="22" textLength="120.64" lengthAdjust="spacingAndGlyphs">Costa_Rica)</text>
<g transform="translate(29.9,0) rotate(-90)"><text x="-412.07" y="0.00" font-size="22" textLength="56.85" lengthAdjust="spacingAndGlyphs">Mean</text><text x="-349.51" y="0.00" font-size="22" textLength="100.90" lengthAdjust="spacingAndGlyphs">electrode</text><text x="-241.20" y="0.00" font-size="22" textLength="54.66" lengthAdjust="spacingAndGlyphs">value</text></g>
<rect x="134.0" y="56.0" width="275.00" height="119.00" rx="3.75" ry="3.75" fill="#fff" fill-opacity="0.8" stroke="#cccccc" stroke-width="1.67"/>
<line x1="140.0" y1="72.45" x2="180.9" y2="72.45" stroke="#1f77b4" stroke-width="3.125"/>
<text x="193.80" y="78.25" font-size="18.75">ESP01</text>
<line x1="140.0" y1="100.80" x2="180.9" y2="100.80" stroke="#ff7f0e" stroke-width="3.125"/>
<text x="193.80" y="106.60" font-size="18.75">ESP05</text>
<line x1="140.0" y1="129.15" x2="180.9" y2="129.15" stroke="#2ca02c" stroke-width="3.125"/>
<text x="193.80" y="134.95" font-size="18.75">ESP08</text>
<line x1="140.0" y1="157.50" x2="180.9" y2="157.50" stroke="#d62728" stroke-width="3.125"/>
<text x="193.80" y="163.30" font-size="18.75">ESP11</text>
<line x1="289.2" y1="72.45" x2="328.9" y2="72.45" stroke="#9467bd" stroke-width="3.125"/>
<text x="342.90" y="78.25" font-size="18.75">ESP13</text>
<line x1="289.2" y1="100.80" x2="328.9" y2="100.80" stroke="#8c564b" stroke-width="3.125"/>
<text x="342.90" y="106.60" font-size="18.75">ESP14</text>
<line x1="289.2" y1="129.15" x2="328.9" y2="129.15" stroke="#e377c2" stroke-width="3.125"/>
<text x="342.90" y="134.95" font-size="18.75">ESP16</text>
<line x1="289.2" y1="157.50" x2="328.9" y2="157.50" stroke="#7f7f7f" stroke-width="3.125"/>
<text x="342.90" y="163.30" font-size="18.75">ESP17</text>
</svg>
</div>
</body></html>
